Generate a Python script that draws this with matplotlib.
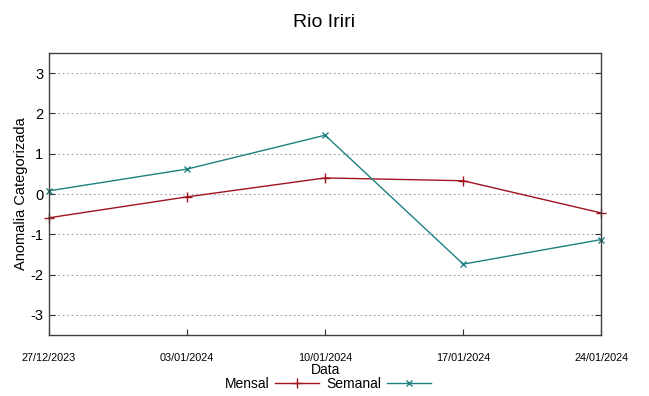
import matplotlib

matplotlib.use("Agg")
import matplotlib.pyplot as plt

plt.rcParams["font.family"] = ["Liberation Sans", "DejaVu Sans"]

dates = ["27/12/2023", "03/01/2024", "10/01/2024", "17/01/2024", "24/01/2024"]
mensal = [-0.59, -0.07, 0.40, 0.33, -0.47]
semanal = [0.08, 0.62, 1.46, -1.74, -1.13]
y_ticks = [-3, -2, -1, 0, 1, 2, 3]

fig = plt.figure(figsize=(6.49, 3.96), dpi=100)
ax = fig.add_axes([0.0755, 0.154, 0.851, 0.712])

x = list(range(len(dates)))
ax.plot(x, mensal, color="#a0141e", lw=1.0, marker="+", ms=7, mew=1.0,
        label="Mensal", clip_on=False)
ax.plot(x, semanal, color="#1e8080", lw=1.0, marker="x", ms=5, mew=1.0,
        label="Semanal", clip_on=False)

ax.set_xlim(0, len(dates) - 1)
ax.set_ylim(-3.5, 3.5)
ax.set_xticks(x)
ax.set_xticklabels(dates, fontsize=7.8)
ax.set_yticks(y_ticks)
ax.set_yticklabels([str(v) for v in y_ticks], fontsize=10.5)
ax.tick_params(axis="both", direction="in", length=4, color="#303030")
ax.tick_params(axis="x", pad=13)
ax.tick_params(axis="y", right=True, pad=4)
ax.grid(True, axis="y", linestyle=(0, (1.5, 2.5)), color="#a0a0a0", lw=0.8)
for spine in ax.spines.values():
    spine.set_color("#404040")
    spine.set_linewidth(1.0)

ax.set_ylabel("Anomalia Categorizada", fontsize=10.5, labelpad=2)
ax.set_xlabel("Data", fontsize=10, labelpad=0)
fig.suptitle("Rio Iriri", fontsize=14, y=0.965)

fig.legend(loc="center", bbox_to_anchor=(0.505, 0.03), ncol=2, frameon=False,
           markerfirst=False, fontsize=10, handlelength=3.2, handletextpad=0.4,
           columnspacing=0.5, borderpad=0)

fig.savefig("out.png", dpi=100)
